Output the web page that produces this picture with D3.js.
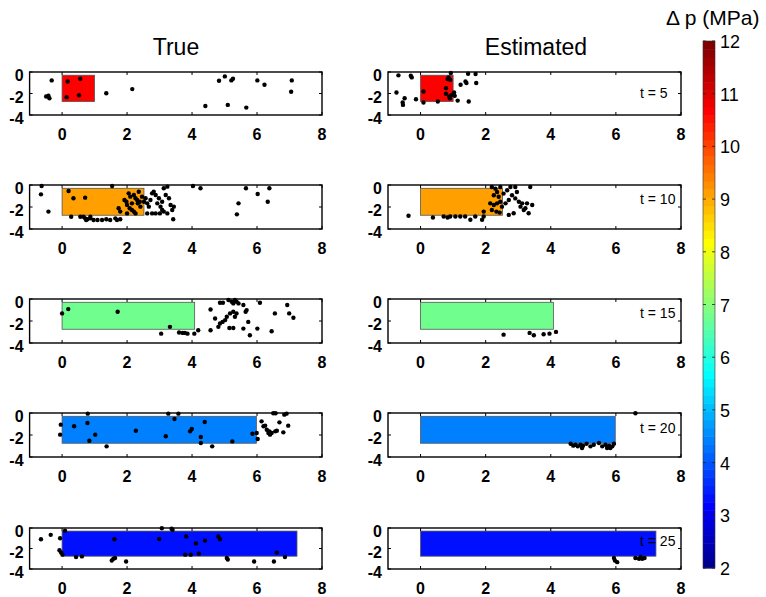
<!DOCTYPE html>
<html>
<head>
<meta charset="utf-8">
<script src="https://cdn.jsdelivr.net/npm/d3@7/dist/d3.min.js"></script>
<style>
  body { margin: 0; background: #fff; overflow: hidden; }
  svg { display: block; font-family: "Liberation Sans", Arial, sans-serif; }
</style>
</head>
<body>
<div id="chart"></div>
<script>
// time steps, pressure change and stimulated zone length per step
const times = [5, 10, 15, 20, 25];
const dpValues = [10.6, 9.1, 6.7, 4.4, 3.4];
const zoneLength = [1.0, 2.52, 4.08, 5.98, 7.23];
const zoneDepth = [-0.3, -2.75];

const xTicks = [0, 2, 4, 6, 8];
const yTicks = [0, -2, -4];
const cbTicks = [2, 3, 4, 5, 6, 7, 8, 9, 10, 11, 12];

// events [distance, depth]
const trueT5 = [[-0.32,-0.78],[-0.49,-2.28],[-0.42,-2.2],[-0.39,-2.44],[0.17,-0.88],[0.56,-0.63],[0.14,-2.34],[0.52,-2.16],[1.36,-1.97],[2.16,-1.59],[4.83,-0.81],[5.01,-0.41],[5.21,-0.78],[5.26,-0.63],[6.01,-0.78],[6.23,-1.19],[7.07,-0.78],[7.05,-1.84],[4.41,-3.16],[5.10,-3.06],[5.67,-3.31]];
const estT5 = [[-0.68,-0.31],[-0.3,-0.34],[-0.27,-0.5],[-0.74,-1.9],[-0.49,-2.44],[-0.55,-2.84],[-0.54,-3.06],[-0.14,-2.53],[0.09,-2.84],[0.09,-1.81],[0.53,-2.75],[0.83,-0.66],[0.86,-0.5],[0.91,-0.72],[0.93,-0.09],[0.78,-1.5],[0.78,-2.03],[0.88,-2.28],[0.95,-2.13],[1.03,-1.9],[1.05,-2.22],[0.9,-2.44],[1.14,-2.66],[1.48,-2.75],[1.23,-1.19],[1.38,-0.88],[1.41,-1.03],[1.46,-0.16],[1.69,-0.19],[1.71,-1.03]];
const trueT10 = [[-0.63,-0.09],[-0.65,-0.85],[-0.42,-2.42],[0.2,-0.55],[0.35,-1.21],[0.71,-1.15],[0.28,-2.88],[0.56,-2.88],[0.66,-2.88],[0.71,-3.03],[0.74,-3.18],[0.78,-3.12],[0.87,-3.03],[0.97,-3.18],[1.09,-3.18],[1.23,-3.18],[1.36,-3.12],[1.48,-3.18],[1.64,-3.03],[1.69,-3.18],[1.79,-3.12],[0.87,-2.88],[1.54,-0.09],[1.74,-2.12],[1.79,-2.42],[1.92,-1.36],[1.98,-1.52],[2.05,-0.76],[2.1,-1.06],[2.15,-1.67],[2.21,-0.91],[2.26,-1.21],[2.31,-1.36],[2.36,-0.61],[2.39,-1.52],[2.0,-1.82],[2.08,-2.12],[2.15,-2.27],[2.26,-2.58],[2.33,-1.67],[2.41,-1.97],[2.46,-1.06],[2.52,-1.52],[2.57,-1.21],[2.62,-1.67],[2.0,-2.58],[2.21,-2.42],[2.67,-1.97],[2.72,-1.36],[2.77,-0.76],[2.82,-0.61],[2.88,-0.91],[2.93,-1.67],[2.98,-1.21],[3.03,-1.97],[3.08,-1.52],[3.13,-0.3],[3.19,-0.91],[3.24,-0.15],[3.29,-1.21],[3.34,-1.82],[3.08,-2.27],[3.24,-2.58],[3.39,-2.27],[3.44,-1.97],[3.42,-3.12],[2.77,-2.58],[2.62,-2.58],[2.88,-2.58],[3.01,-2.58],[3.13,-2.42],[4.03,-0.09],[4.26,-0.3],[5.66,-0.3],[6.02,-0.82],[6.38,-0.3],[6.33,-1.52],[5.43,-1.67],[5.38,-2.67]];
const estT10 = [[-0.37,-2.8],[0.38,-2.96],[0.71,-2.87],[0.83,-2.96],[0.91,-2.87],[1.07,-2.87],[1.22,-2.87],[1.37,-2.87],[1.53,-3.16],[1.68,-2.87],[1.89,-3.16],[1.94,-2.87],[2.19,-0.18],[2.3,-0.33],[2.35,-0.63],[2.25,-0.93],[2.4,-1.07],[2.14,-1.67],[2.25,-1.82],[2.35,-1.67],[2.45,-1.52],[2.5,-1.97],[2.19,-2.27],[2.33,-2.42],[2.43,-2.51],[1.94,-2.42],[2.55,-0.78],[2.66,-0.48],[2.76,-0.18],[2.81,-0.93],[2.91,-1.22],[2.96,-0.63],[3.02,-1.52],[3.07,-1.97],[3.12,-1.67],[3.17,-2.27],[3.22,-2.12],[3.27,-1.67],[3.32,-2.57],[3.37,-0.18],[3.43,-1.82],[2.86,-2.57],[2.71,-2.72],[2.61,-1.67],[2.71,-1.37],[2.45,-0.18],[2.91,-0.18]];
const trueT15 = [[0,-1.31],[0.19,-0.92],[1.71,-1.16],[3.32,-2.53],[3.05,-3.15],[3.6,-3.05],[3.71,-3.08],[3.78,-3.08],[3.86,-3.15],[4.07,-3.15],[4.19,-2.84],[4.57,-2.84],[4.57,-0.95],[4.81,-2.53],[4.86,-0.34],[4.95,-0.34],[4.71,-1.77],[4.86,-2.23],[4.94,-2.08],[5.02,-1.92],[5.07,-1.62],[5.17,-1.31],[5.12,-0.09],[5.22,-0.24],[5.27,-0.4],[5.32,-0.09],[5.37,-0.24],[5.43,-0.4],[5.27,-1.16],[5.32,-1.62],[5.37,-1.31],[5.15,-2.63],[5.27,-2.63],[5.58,-0.55],[5.68,-1.01],[5.65,-1.16],[5.73,-2.08],[5.78,-3.3],[5.58,-2.69],[6.01,-2.69],[6.09,-0.34],[6.55,-1.31],[6.93,-0.55],[6.99,-1.31],[7.12,-1.71],[6.45,-2.93]];
const estT15 = [[2.55,-3.24],[3.35,-3.08],[3.48,-3.3],[3.78,-3.21],[3.96,-3.15],[4.16,-2.99]];
const trueT20 = [[0.79,-0.06],[3.27,-0.06],[3.58,-0.06],[3.46,-0.55],[-0.04,-1.06],[-0.06,-1.97],[0.37,-1.21],[0.78,-0.91],[1.02,-1.97],[0.84,-2.52],[1.37,-3.03],[2.27,-1.61],[3.19,-2.12],[3.94,-1.67],[3.99,-1.45],[4.39,-0.82],[4.27,-2.18],[4.27,-2.73],[4.62,-3.03],[5.24,-2.58],[5.86,-1.88],[5.99,-1.82],[6.02,-2.36],[6.14,-0.76],[6.2,-1.21],[6.25,-1.15],[6.3,-1.52],[6.35,-1.82],[6.4,-1.97],[6.45,-1.82],[6.38,-1.67],[6.56,-1.67],[6.61,-1.61],[6.5,-0.02],[6.57,-0.02],[6.69,-0.85],[6.81,-1.76],[6.84,-0.15],[6.91,-0.06],[6.96,-1.15]];
const estT20 = [[6.6,-0.02],[4.61,-2.79],[4.69,-2.97],[4.76,-2.88],[4.83,-3.03],[4.91,-2.88],[4.99,-2.97],[5.1,-2.79],[5.22,-3.03],[5.32,-2.88],[5.48,-2.73],[5.58,-3.03],[5.68,-2.88],[5.79,-2.97],[5.89,-3.03],[5.94,-2.79],[5.83,-3.18],[5.73,-3.18],[4.96,-3.18]];
const trueT25 = [[-0.65,-1.1],[-0.35,-0.67],[-0.06,-1.0],[0.09,-0.27],[-0.08,-2.17],[-0.03,-2.4],[0.01,-2.6],[0.43,-2.83],[0.61,-2.77],[1.53,-3.17],[1.58,-3.0],[1.63,-2.93],[1.61,-1.1],[1.97,-3.27],[2.99,-1.07],[3.07,-0.02],[3.37,-0.07],[3.4,-0.17],[3.82,-0.83],[3.79,-2.6],[3.96,-2.6],[4.12,-1.5],[4.21,-2.5],[4.4,-1.23],[4.81,-0.83],[4.86,-1.1],[5.07,-2.93],[5.1,-3.07],[5.91,-3.27],[6.52,-3.27],[6.61,-2.4],[6.86,-2.83]];
const estT25 = [[5.94,-2.93],[5.97,-3.17],[6.04,-3.33],[6.6,-2.93],[6.71,-3.0],[6.81,-3.0],[6.88,-2.93],[6.76,-2.83]];

const trueEvents = [trueT5, trueT10, trueT15, trueT20, trueT25];
const estEvents = [estT5, estT10, estT15, estT20, estT25];

// MATLAB style jet(m)
function jet(m) {
    let n = Math.ceil(m / 4);
    let u = [];
    for (let i = 1; i <= n; i++) u.push(i / n);
    for (let i = 1; i < n; i++) u.push(1);
    for (let i = n; i >= 1; i--) u.push(i / n);
    let g0 = Math.ceil(n / 2) - (m % 4 === 1 ? 1 : 0);
    let J = d3.range(m).map(() => [0, 0, 0]);
    u.forEach(function(val, k) {
        let g = g0 + k + 1, r = g + n, b = g - n;
        if (r >= 1 && r <= m) J[r - 1][0] = val;
        if (g >= 1 && g <= m) J[g - 1][1] = val;
        if (b >= 1 && b <= m) J[b - 1][2] = val;
    });
    return J.map(c => d3.rgb(c[0] * 255, c[1] * 255, c[2] * 255).formatHex());
}
const cmap = jet(64);
const cmin = 2, cmax = 12;
function colorOf(v) {
    let idx = Math.floor((v - cmin) / (cmax - cmin) * cmap.length);
    return cmap[Math.max(0, Math.min(cmap.length - 1, idx))];
}

const W = 766, H = 597;
const svg = d3.select('#chart').append('svg').attr('width', W).attr('height', H);

const cols = [[29.6, 322], [388, 681]];
const rowTop = [72, 185, 299, 413, 528];
const rowH = [43, 44, 44, 44, 41];
const labelDy = [21, 14, 14, 15, 13];

svg.append('text').attr('x', 176).attr('y', 55).attr('text-anchor', 'middle')
    .attr('font-size', 23).text('True');
svg.append('text').attr('x', 536).attr('y', 55).attr('text-anchor', 'middle')
    .attr('font-size', 23).text('Estimated');

function drawPanel(ci, ri, events) {
    let x = d3.scaleLinear().domain([-1, 8]).range(cols[ci]);
    let y = d3.scaleLinear().domain([-4, 0]).range([rowTop[ri] + rowH[ri], rowTop[ri]]);
    let g = svg.append('g');
    let x0 = cols[ci][0], x1 = cols[ci][1];
    let y0 = rowTop[ri], y1 = rowTop[ri] + rowH[ri];

    // stimulated zone
    g.append('rect')
        .attr('x', x(0)).attr('y', y(zoneDepth[0]))
        .attr('width', x(zoneLength[ri]) - x(0))
        .attr('height', y(zoneDepth[1]) - y(zoneDepth[0]))
        .attr('fill', colorOf(dpValues[ri]))
        .attr('stroke', '#555').attr('stroke-width', 0.8);

    g.selectAll('.ev').data(events).enter().append('circle')
        .attr('cx', d => x(d[0])).attr('cy', d => y(d[1]))
        .attr('r', 2.2).attr('fill', '#000');

    if (ci === 1) {
        g.append('text').attr('x', 640).attr('y', y0 + labelDy[ri] + 5)
            .attr('font-size', 14).text('t = ' + times[ri]);
    }

    // axes box with inward ticks
    g.append('rect').attr('x', x0).attr('y', y0).attr('width', x1 - x0).attr('height', y1 - y0)
        .attr('fill', 'none').attr('stroke', '#000').attr('stroke-width', 1.4);
    xTicks.forEach(function(t) {
        g.append('line').attr('x1', x(t)).attr('x2', x(t)).attr('y1', y1).attr('y2', y1 - 3).attr('stroke', '#000');
        g.append('line').attr('x1', x(t)).attr('x2', x(t)).attr('y1', y0).attr('y2', y0 + 3).attr('stroke', '#000');
        g.append('text').attr('x', x(t)).attr('y', y1 + 25).attr('text-anchor', 'middle')
            .attr('font-size', 16).attr('font-weight', 'bold').text(t);
    });
    yTicks.forEach(function(t) {
        g.append('line').attr('x1', x0).attr('x2', x0 + 3).attr('y1', y(t)).attr('y2', y(t)).attr('stroke', '#000');
        g.append('line').attr('x1', x1).attr('x2', x1 - 3).attr('y1', y(t)).attr('y2', y(t)).attr('stroke', '#000');
        g.append('text').attr('x', x0 - 6).attr('y', y(t) + 9).attr('text-anchor', 'end')
            .attr('font-size', 16).attr('font-weight', 'bold').text(t);
    });
}

for (let r = 0; r < 5; r++) {
    drawPanel(0, r, trueEvents[r]);
    drawPanel(1, r, estEvents[r]);
}

// colorbar
const cbX = 703, cbW = 12;
const cb = d3.scaleLinear().domain([cmin, cmax]).range([568, 41]);
const step = (cmax - cmin) / cmap.length;
svg.append('g').selectAll('rect').data(cmap).enter().append('rect')
    .attr('x', cbX)
    .attr('y', (d, i) => cb(cmin + (i + 1) * step))
    .attr('width', cbW)
    .attr('height', (d, i) => cb(cmin + i * step) - cb(cmin + (i + 1) * step) + 0.5)
    .attr('fill', d => d);
svg.append('rect').attr('x', cbX).attr('y', cb(cmax)).attr('width', cbW)
    .attr('height', cb(cmin) - cb(cmax)).attr('fill', 'none').attr('stroke', '#333').attr('stroke-width', 0.6);
cbTicks.forEach(function(t) {
    svg.append('line').attr('x1', cbX).attr('x2', cbX + 3).attr('y1', cb(t)).attr('y2', cb(t)).attr('stroke', '#222').attr('stroke-width', 0.8);
    svg.append('line').attr('x1', cbX + cbW - 3).attr('x2', cbX + cbW).attr('y1', cb(t)).attr('y2', cb(t)).attr('stroke', '#222').attr('stroke-width', 0.8);
    svg.append('text').attr('x', cbX + cbW + 5).attr('y', cb(t) + 7)
        .attr('font-size', 18).text(t);
});
svg.append('text').attr('x', 666).attr('y', 25).attr('font-size', 21).text('Δ p (MPa)');
</script>
</body>
</html>
